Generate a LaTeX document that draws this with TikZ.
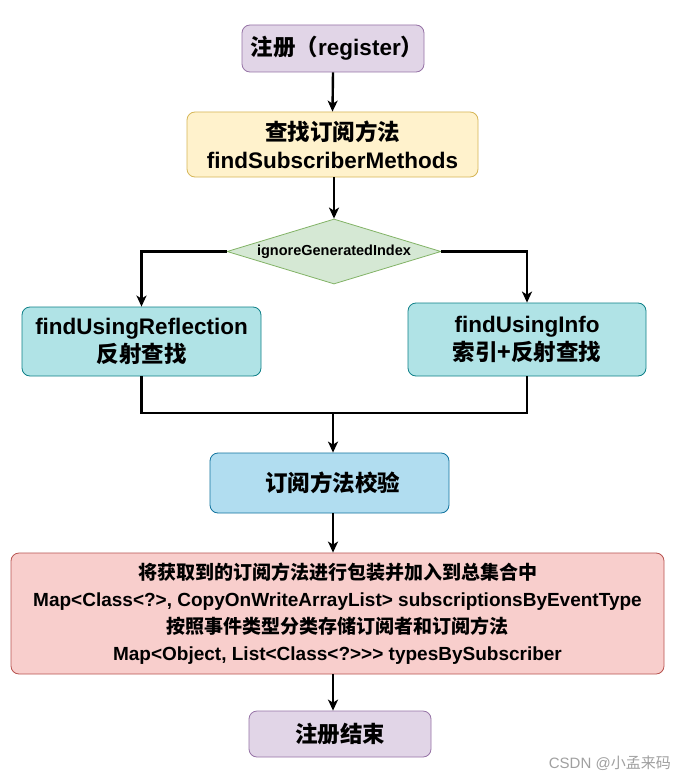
\documentclass[tikz,border=0pt]{standalone}
\usepackage{fontspec}
\setmainfont{Liberation Sans}
\newfontfamily\cjk{Noto Sans CJK SC}
\usetikzlibrary{shapes.geometric,arrows.meta}
\definecolor{purpleF}{HTML}{E1D5E7}\definecolor{purpleD}{HTML}{9673A6}
\definecolor{yellowF}{HTML}{FFF2CC}\definecolor{yellowD}{HTML}{D6B656}
\definecolor{greenF}{HTML}{D5E8D4}\definecolor{greenD}{HTML}{82B366}
\definecolor{tealF}{HTML}{B0E3E6}\definecolor{tealD}{HTML}{0E8088}
\definecolor{blueF}{HTML}{B1DDF0}\definecolor{blueD}{HTML}{10739E}
\definecolor{redF}{HTML}{F8CECC}\definecolor{redD}{HTML}{B85450}
\definecolor{wmark}{HTML}{A0A0A0}
\begin{document}
\begin{tikzpicture}[x=1pt,y=-1pt,
  box/.style={rectangle,rounded corners=8pt,line width=0.8pt,inner sep=0pt,align=center,
    font=\bfseries\fontsize{22.5}{28}\selectfont},
  arr/.style={line width=2.4pt,-{Stealth[length=11pt,width=10pt,inset=3pt]}},
  ln/.style={line width=2.4pt}]
\useasboundingbox (0,0) rectangle (687,781);
\fill[white] (0,0) rectangle (687,781);

\node[box,fill=purpleF,draw=purpleD,minimum width=182pt,minimum height=47pt] (reg) at (333,48.5)
  {\hspace*{8pt}{\cjk 注册（}register{\cjk ）}};
\node[box,fill=yellowF,draw=yellowD,minimum width=291pt,minimum height=65pt] (find) at (332.5,144.5)
  {{\cjk 查找订阅方法}\\findSubscriberMethods};
\node[diamond,aspect=3.3,fill=greenF,draw=greenD,line width=0.8pt,inner sep=0pt,
  minimum width=214pt,minimum height=65pt,font=\bfseries\fontsize{14.5}{17}\selectfont] (dia) at (334,251.5)
  {ignoreGeneratedIndex};
\node[box,fill=tealF,draw=tealD,minimum width=239pt,minimum height=69pt] (refl) at (141.5,341.5)
  {findUsingReflection\\{\cjk 反射查找}};
\node[box,fill=tealF,draw=tealD,minimum width=238pt,minimum height=73pt] (info) at (527,339.5)
  {findUsingInfo\\{\cjk 索引+反射查找}};
\node[box,fill=blueF,draw=blueD,minimum width=239pt,minimum height=60pt] (check) at (329.5,483)
  {\hspace*{6pt}\cjk 订阅方法校验};
\node[box,fill=redF,draw=redD,minimum width=653pt,minimum height=121pt,
  font=\bfseries\fontsize{19}{27}\selectfont] (red) at (337.5,613.5)
  {{\cjk 将获取到的订阅方法进行包装并加入到总集合中}\\
   Map<Class<?>, CopyOnWriteArrayList> subscriptionsByEventType\\
   {\cjk 按照事件类型分类存储订阅者和订阅方法}\\
   Map<Object, List<Class<?>{}>{}> typesBySubscriber};
\node[box,fill=purpleF,draw=purpleD,minimum width=182pt,minimum height=46pt] (end) at (340,734)
  {\cjk 注册结束};
\node[anchor=east,inner sep=0pt,text=wmark,font=\fontsize{15}{18}\selectfont] (wm) at (671,763)
  {CSDN @{\cjk 小孟来码}};

\coordinate (j) at (333,413);
\draw[arr] (reg.south) -- (find.north);
\draw[arr] (find.south -| dia.north) -- (dia.north);
\draw[arr] (dia.west) -| (refl.north);
\draw[arr] (dia.east) -| (info.north);
\draw[ln] (refl.south) |- (j);
\draw[ln] (info.south) |- (j);
\draw[arr] (j) -- (j |- check.north);
\draw[arr] (check.south -| j) -- (j |- red.north);
\draw[arr] (red.south -| j) -- (j |- end.north);
\end{tikzpicture}
\end{document}
